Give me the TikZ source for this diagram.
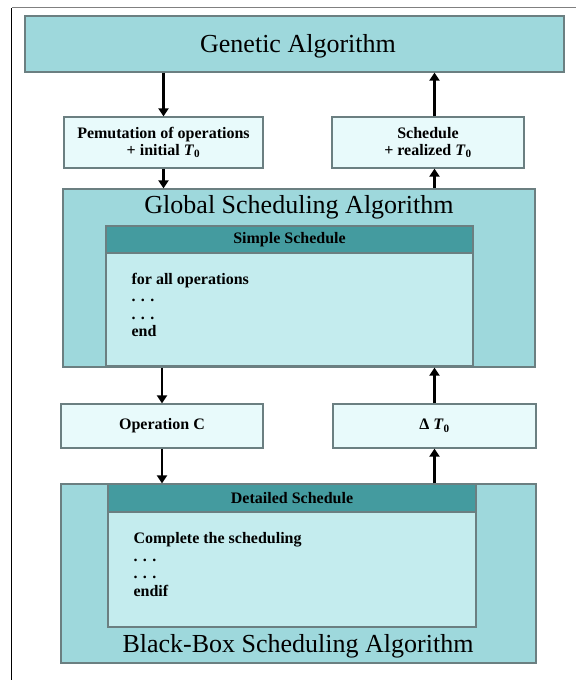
\documentclass[tikz,border=0pt]{standalone}
\usepackage{fontspec}
\setmainfont{Liberation Serif}
\usepackage{xcolor}
\usetikzlibrary{arrows.meta,calc,positioning,shadows}
\definecolor{algofill}{HTML}{9ED8DC}
\definecolor{panelfill}{HTML}{C4ECEE}
\definecolor{headfill}{HTML}{449B9F}
\definecolor{datafill}{HTML}{E8FAFB}
\definecolor{edgegray}{HTML}{6B7F81}
\newcommand{\Tnull}{\textit{T}\textsubscript{0}}
\tikzset{%
	algo/.style   = {draw=edgegray, line width=1.2pt, fill=algofill, rectangle, inner sep=0pt,
	                 drop shadow={shadow xshift=1pt, shadow yshift=-1pt, opacity=1, fill=black!60}}, % Algorithm box
	data/.style   = {draw=edgegray, line width=1.2pt, fill=datafill, rectangle, align=center,
	                 font=\fontsize{16}{17}\selectfont\bfseries,
	                 drop shadow={shadow xshift=1pt, shadow yshift=-1pt, opacity=1, fill=black!50}}, % Exchanged data
	panel/.style  = {draw=edgegray, line width=1.2pt, fill=panelfill, rectangle}, % Schedule panel
	head/.style   = {draw=edgegray, line width=1.2pt, fill=headfill, rectangle, inner sep=0pt,
	                 font=\fontsize{16}{17}\selectfont\bfseries}, % Panel header
	code/.style   = {align=left, inner sep=0pt, font=\fontsize{16}{17.5}\selectfont\bfseries}, % Pseudo code
	title/.style  = {inner sep=0pt, font=\fontsize{26}{30}\selectfont}, % Algorithm name
}

\begin{document}
\begin{tikzpicture}[x=1pt, y=-1pt, >={Triangle[length=8pt,width=10pt]}, flow/.style={->, line width=2.4pt}]
		\useasboundingbox (0,0) rectangle (576,680);
		\draw[black, line width=1pt] (11.5,680) -- (11.5,7.5);
		\draw[gray, line width=1.5pt] (11.5,7.5) -- (576,7.5);
		% algorithms
		\node[algo, minimum width=539pt, minimum height=56pt] (ga) at (294.5,44) {};
		\node[title] (gatitle) at (298,46) {Genetic Algorithm};
		\node[algo, minimum width=472pt, minimum height=178pt] (gsa) at (299,278) {};
		\node[title] (gsatitle) at (299,207) {Global Scheduling Algorithm};
		\node[algo, minimum width=475pt, minimum height=179pt] (bbs) at (298.5,573.5) {};
		\node[title] (bbstitle) at (298,646) {Black-Box Scheduling Algorithm};
		% schedule panels
		\node[panel, minimum width=367pt, minimum height=140pt] (spanel) at (289.5,296) {};
		\node[head, anchor=north, minimum width=367pt, minimum height=27pt] (shead) at (spanel.north) {Simple Schedule};
		\node[code, below right=19pt and 26pt of shead.south west] (scode) {for all operations\\. . .\\. . .\\end};
		\node[panel, minimum width=368pt, minimum height=143pt] (dpanel) at (292,555.5) {};
		\node[head, anchor=north, minimum width=368pt, minimum height=28pt] (dhead) at (dpanel.north) {Detailed Schedule};
		\node[code, below right=20pt and 26pt of dhead.south west] (dcode) {Complete the scheduling\\. . .\\. . .\\endif};
		% data
		\node[data, minimum width=199pt, minimum height=51pt] (perm) at (163.5,142.5) {Pemutation of operations\\+ initial \Tnull};
		\node[data, minimum width=192pt, minimum height=51pt] (sched) at (428,142.5) {Schedule\\+ realized \Tnull};
		\node[data, minimum width=202pt, minimum height=44pt] (opc) at (162,426) {Operation C};
		\node[data, minimum width=203pt, minimum height=44pt] (dt) at (434.5,426) {Δ \Tnull};
		% flow
		\draw[flow] (ga.south -| perm) -- (perm.north);
		\draw[flow] (perm.south) -- (gsa.north -| perm);
		\draw[flow] (gsa.south -| opc) -- (opc.north);
		\draw[flow] (opc.south) -- (bbs.north -| opc);
		\draw[flow] (bbs.north -| dt) -- (dt.south);
		\draw[flow] (dt.north) -- (gsa.south -| dt);
		\draw[flow] (gsa.north -| dt) -- (sched.south -| dt);
		\draw[flow] (sched.north -| dt) -- (ga.south -| dt);
\end{tikzpicture}
\end{document}
